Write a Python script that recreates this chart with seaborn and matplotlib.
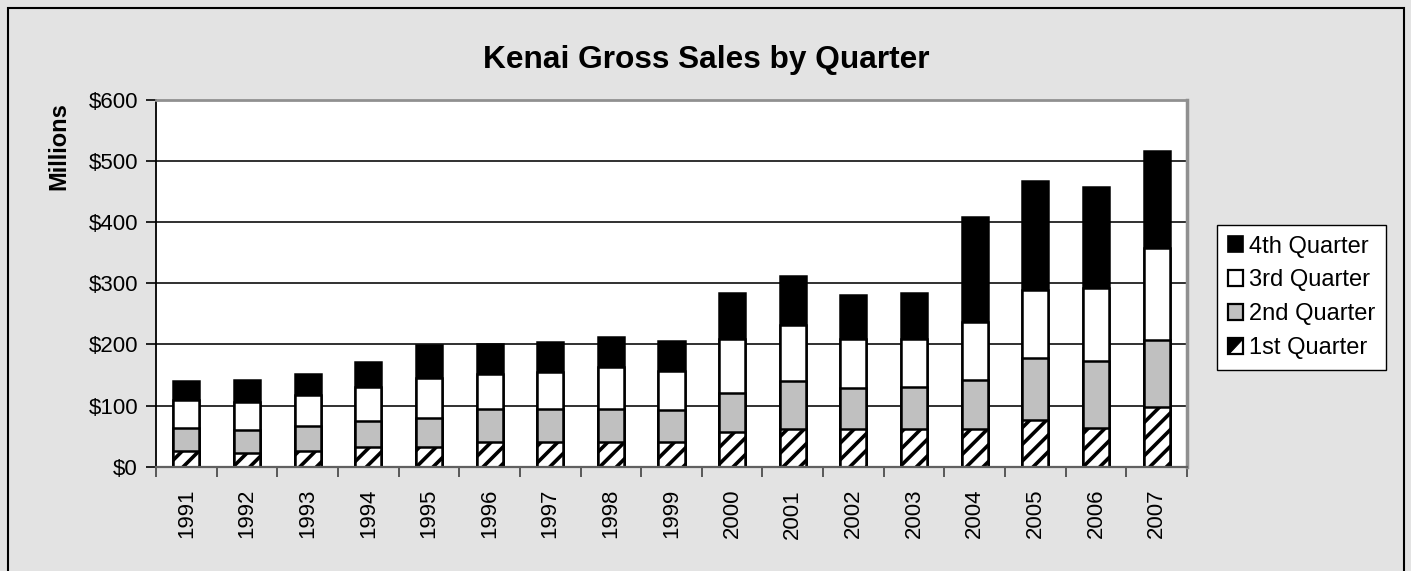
import matplotlib
matplotlib.use("Agg")
import matplotlib.pyplot as plt
from matplotlib.patches import Patch, Rectangle, Polygon
from matplotlib.legend_handler import HandlerBase
import seaborn as sns
import numpy as np

years = ["1991", "1992", "1993", "1994", "1995", "1996", "1997", "1998", "1999",
         "2000", "2001", "2002", "2003", "2004", "2005", "2006", "2007"]
q1 = [25, 22, 26, 32, 32, 41, 40, 40, 41, 56, 62, 61, 62, 62, 76, 63, 97]
q2 = [39, 38, 41, 42, 48, 53, 54, 54, 51, 65, 78, 68, 68, 80, 102, 110, 111]
q3 = [45, 46, 50, 57, 65, 58, 61, 69, 65, 88, 92, 80, 79, 95, 111, 119, 150]
q4 = [31, 36, 35, 41, 54, 49, 49, 50, 48, 76, 80, 72, 75, 172, 178, 166, 158]
y_ticks = [0, 100, 200, 300, 400, 500, 600]
y_tick_labels = ["$0", "$100", "$200", "$300", "$400", "$500", "$600"]
series_names = ["1st Quarter", "2nd Quarter", "3rd Quarter", "4th Quarter"]

sns.set_style("white")
plt.rcParams["font.family"] = ["Liberation Sans", "DejaVu Sans"]
plt.rcParams["hatch.linewidth"] = 2.6
plt.rcParams["hatch.color"] = "black"
plt.rcParams["text.color"] = "black"
plt.rcParams["xtick.color"] = "black"
plt.rcParams["ytick.color"] = "black"
plt.rcParams["axes.labelcolor"] = "black"

BG = "#e3e3e3"
fig = plt.figure(figsize=(14.11, 5.71), dpi=100, facecolor=BG)
ax = fig.add_axes([156 / 1411, 1 - 466.7 / 571, (1187 - 156) / 1411, (466.7 - 100) / 571])
ax.set_facecolor("white")

c1 = np.array(q1)
c2 = c1 + np.array(q2)
c3 = c2 + np.array(q3)
c4 = c3 + np.array(q4)

W = 0.43
EC = "black"
LW = 1.8
sns.barplot(x=years, y=c4, color="black", width=W, edgecolor=EC, linewidth=LW,
            saturation=1, ax=ax, zorder=3, errorbar=None)
sns.barplot(x=years, y=c3, color="white", width=W, edgecolor=EC, linewidth=LW,
            saturation=1, ax=ax, zorder=3, errorbar=None)
sns.barplot(x=years, y=c2, color="#c0c0c0", width=W, edgecolor=EC, linewidth=LW,
            saturation=1, ax=ax, zorder=3, errorbar=None)
sns.barplot(x=years, y=c1, color="white", width=W, edgecolor=EC, linewidth=LW,
            saturation=1, ax=ax, zorder=3, errorbar=None, hatch="//")

ax.set_xlim(-0.5, len(years) - 0.5)
ax.set_ylim(0, 600)
ax.set_yticks(y_ticks)
ax.set_yticklabels(y_tick_labels, fontsize=16)
ax.set_xticks(range(len(years)))
ax.set_xticklabels(years, rotation=90, fontsize=16)
ax.set_xticks(np.arange(-0.5, len(years), 1.0), minor=True)
ax.tick_params(axis="x", which="major", length=0, pad=16)
ax.tick_params(axis="x", which="minor", length=7, width=1.2, color="#404040", direction="out", bottom=True)
ax.tick_params(axis="y", which="major", length=7, width=1.2, color="black", direction="out", pad=6, left=True)
ax.set_xlabel("")
ax.set_ylabel("")

for y in y_ticks[1:-1]:
    ax.axhline(y, color="#202020", lw=1.3, zorder=1)

ax.spines["left"].set_color("black")
ax.spines["left"].set_linewidth(1.3)
ax.spines["bottom"].set_color("#606060")
ax.spines["bottom"].set_linewidth(1.6)
ax.spines["top"].set_color("#909090")
ax.spines["top"].set_linewidth(2)
ax.spines["right"].set_color("#909090")
ax.spines["right"].set_linewidth(2.5)
for s in ax.spines.values():
    s.set_zorder(5)

fig.text(706 / 1411, 1 - 60 / 571, "Kenai Gross Sales by Quarter", ha="center", va="center",
         fontsize=22.8, fontweight="bold", color="black")
fig.text(59 / 1411, 1 - 102 / 571, "Millions", rotation=90, ha="center", va="top",
         fontsize=17, fontweight="bold", color="black")


class HalfHatchHandler(HandlerBase):
    def create_artists(self, legend, orig_handle, xdescent, ydescent, width, height, fontsize, trans):
        x0, y0 = -xdescent, -ydescent
        box = Rectangle((x0, y0), width, height, facecolor="white", edgecolor="black",
                        lw=1.6, transform=trans)
        tri = Polygon([(x0, y0), (x0, y0 + height), (x0 + width, y0 + height)], closed=True,
                      facecolor="black", edgecolor="black", lw=0.8, transform=trans)
        return [box, tri]


handles = [
    Patch(facecolor="black", edgecolor="black", lw=1.2, label="4th Quarter"),
    Patch(facecolor="white", edgecolor="black", lw=1.6, label="3rd Quarter"),
    Patch(facecolor="#c0c0c0", edgecolor="black", lw=1.6, label="2nd Quarter"),
    Patch(facecolor="white", edgecolor="black", lw=1.6, label="1st Quarter"),
]
leg = fig.legend(handles=handles, loc="upper left", bbox_to_anchor=(1217 / 1411, 1 - 225 / 571),
                 frameon=True, fontsize=17, handlelength=0.65, handleheight=0.65,
                 handletextpad=0.25, labelspacing=0.5, borderpad=0.45, borderaxespad=0,
                 fancybox=False, edgecolor="black",
                 handler_map={handles[3]: HalfHatchHandler()})
leg.get_frame().set_linewidth(1.0)
leg.get_frame().set_facecolor("white")
leg.get_frame().set_alpha(1)

fig.patches.append(Rectangle((8 / 1411, -0.05), (1404 - 8) / 1411, 1.05 - 8 / 571,
                             transform=fig.transFigure, fill=False, edgecolor="black",
                             lw=1.5, zorder=0))

fig.savefig("out.png", dpi=100, facecolor=BG)
